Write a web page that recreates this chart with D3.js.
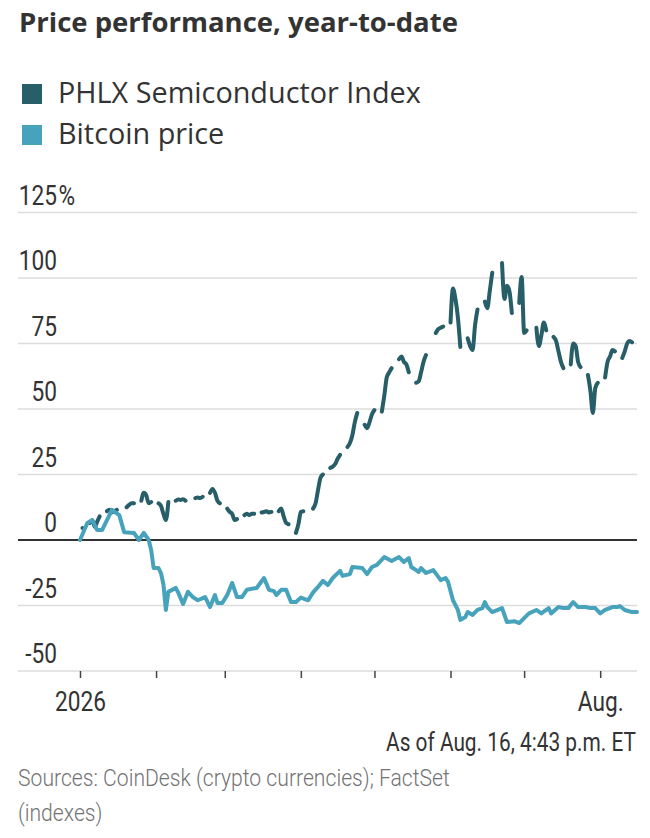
<!DOCTYPE html>
<html>
<head>
<meta charset="utf-8">
<script src="https://cdn.jsdelivr.net/npm/d3@7"></script>
<style>
  body { margin: 0; background: #fff; }
  .narrow { font-family: Roboto, "Liberation Sans", sans-serif; }
</style>
</head>
<body>
<div id="chart"></div>
<script>
const seriesNames = ["PHLX Semiconductor Index", "Bitcoin price"];
const seriesColors = ["#275e68", "#47a3bb"];

const yTicks = [-50, -25, 0, 25, 50, 75, 100, 125];
const xTickDates = ["2026-01-01", "2026-02-01", "2026-03-01", "2026-04-01",
                    "2026-05-01", "2026-06-01", "2026-07-01", "2026-08-01"];
const xTickLabels = ["2026", "", "", "", "", "", "", "Aug."];

// PHLX semis, % change YTD, one row per trading week Mon..Fri (null = market closed)
const semiFirstMonday = "2025-12-29";
const semiWeeks = [
  [null, null, null, null, 4.6],
  [6.5, 7.5, 5, 7, 9],
  [11, 11.5, 10.5, 11, 11.5],
  [null, 12.5, 13.4, 14, 14],
  [15, 18, 17, 14, 14.5],
  [14, 13, 10, 7.6, 14.5],
  [15, 15.5, 15.3, 15.6, 15],
  [null, 16, 16.2, 16, 16.5],
  [18, 19.5, 18, 15, 14],
  [12, 10.7, 10, 7.6, 8],
  [9.5, 10, 9.5, 10, 10],
  [10.5, 10.7, 11, 10.5, 10.7],
  [11, 12, 9, 6.5, 6],
  [2.7, 6, 10.7, 11, null],
  [12, 14, 19, 23.7, 25],
  [27.5, 28, 29, 31, 32.5],
  [35.5, 37, 40, 45, 48.5],
  [44, 42.7, 45, 48, 49.6],
  [49, 55, 62, 64, 65.6],
  [69, 70, 68, 67, 64],
  [60, 60.5, 64, 68, 70.6],
  [null, 79, 80.5, 81, 81.5],
  [83, 96, 92, 85, 73.7],
  [77, 74, 72.5, 82, 88],
  [91, 88.5, 95, 102, null],
  [105.7, 92, 97, 95, 86.6],
  [90.5, 100.4, 79, 80, null],
  [81, 74, 78, 83, 80],
  [77.5, 76, 72, 68, 65.6],
  [67, 75, 74, 68, 66],
  [63, 57, 48.5, 58, 60],
  [62, 68, 70, 72.5, 72],
  [69.5, 72, 75, 76, 75.5]
];

// Bitcoin, % change YTD: day of year (0 = Jan. 1) and value
const btcDays = [0, 3, 5, 7, 9, 12, 13, 16, 18, 22, 24, 26, 28, 29, 30, 32, 33, 34, 35, 36,
                 39, 40, 42, 44, 46, 48, 51, 53, 55, 56, 58, 60, 62, 64, 66, 68, 72, 75, 77, 79,
                 80, 82, 84, 86, 88, 90, 93, 95, 97, 99, 101, 103, 106, 107, 110, 111, 115, 117, 119, 121,
                 124, 127, 130, 132, 134, 135, 137, 138, 139, 141, 144, 147, 149, 150, 152, 154, 155, 157, 158, 160,
                 162, 164, 165, 166, 168, 172, 174, 177, 179, 181, 183, 186, 188, 191, 192, 195, 197, 199, 201, 203,
                 206, 208, 210, 212, 214, 217, 219, 220, 222, 225, 227];
const btcValues = [0, 6.5, 7.6, 3.8, 3.8, 9.5, 11.5, 9.5, 3, 2.7, 0, 2.7, 0, -3.8, -10.7, -10.7, -12.6, -17, -26.7, -19.8,
                   -18.3, -20, -24.4, -19.8, -21.8, -23, -21.8, -25.6, -21, -24, -24, -21, -16.4, -21.8, -21.8, -19, -18.3, -14.5, -19, -19.5,
                   -21, -19, -19, -23.7, -23.7, -22, -23, -20, -17.9, -15.6, -17.2, -14.5, -11.8, -13.7, -13, -10.3, -10.7, -13, -10.3, -9.5,
                   -6.5, -8, -6.5, -8.4, -6.9, -10.3, -11.5, -12.2, -10.7, -12.6, -11.5, -15.3, -14.5, -16, -23, -26.7, -30.5, -29.4, -27.5, -28.6,
                   -26.7, -26, -23.7, -25.6, -27.5, -26, -31.3, -31, -31.7, -29.8, -28, -26.7, -28, -26, -28, -25.6, -26, -26, -23.7, -25.6,
                   -25.6, -26, -26, -28, -26.7, -25.6, -25.6, -25.2, -26.7, -27.5, -27.5];

const width = 650, height = 838;
const parse = d3.timeParse("%Y-%m-%d");
const jan1 = parse("2026-01-01");

const svg = d3.select("#chart").append("svg")
  .attr("width", width)
  .attr("height", height);

const x = d3.scaleTime()
  .domain([jan1, parse("2026-08-16")])
  .range([80, 637]);

const y = d3.scaleLinear()
  .domain([-50, 125])
  .range([671, 212.5]);

// squeeze text horizontally (scale about its anchor) to mimic the narrow house font
function squeeze(sel, k) {
  sel.each(function() {
    const t = d3.select(this);
    const tx = +t.attr("x") || 0, ty = +t.attr("y") || 0;
    t.attr("x", 0).attr("y", 0)
      .attr("transform", `translate(${tx},${ty}) scale(${k},1)`);
  });
}
function fitWidth(node, target) {
  return target / node.getComputedTextLength();
}

// title
svg.append("text")
  .attr("x", 19).attr("y", 32)
  .attr("font-family", "'Open Sans', sans-serif")
  .attr("font-weight", 700)
  .attr("font-size", 27.5)
  .attr("fill", "#333")
  .text("Price performance, year-to-date");

// legend
const legend = svg.append("g");
seriesNames.forEach((name, i) => {
  legend.append("rect")
    .attr("x", 22).attr("y", 84 + i * 41)
    .attr("width", 20).attr("height", 20)
    .attr("fill", seriesColors[i]);
  legend.append("text")
    .attr("x", 58).attr("y", 103 + i * 41)
    .attr("font-family", "'Open Sans', sans-serif")
    .attr("font-size", 28.8)
    .attr("fill", "#333")
    .text(name);
});

// gridlines
svg.append("g")
  .selectAll("line")
  .data(yTicks.filter(d => d !== 0))
  .join("line")
  .attr("x1", 18).attr("x2", 637)
  .attr("y1", d => y(d)).attr("y2", d => y(d))
  .attr("stroke", "#dcdcdc")
  .attr("stroke-width", 1.5);

// y labels
const yLab = svg.append("g").attr("class", "narrow")
  .attr("font-size", 27).attr("fill", "#333");
yLab.selectAll("text")
  .data(yTicks)
  .join("text")
  .attr("x", 57)
  .attr("y", d => y(d) - 8)
  .attr("text-anchor", "end")
  .text(d => d);
yLab.append("text")
  .attr("x", 58.5).attr("y", y(125) - 8)
  .text("%");
squeeze(yLab.selectAll("text"), 0.84);

// x axis ticks and labels
const xAxis = d3.axisBottom(x)
  .tickValues(xTickDates.map(parse))
  .tickSize(7)
  .tickFormat((d, i) => xTickLabels[i]);
const gx = svg.append("g")
  .attr("transform", `translate(0,${y(-50)})`)
  .call(xAxis);
gx.select(".domain").remove();
gx.selectAll(".tick line").attr("stroke", "#444").attr("stroke-width", 1.5);
gx.selectAll(".tick text")
  .attr("class", "narrow")
  .attr("font-size", 27)
  .attr("fill", "#333")
  .attr("dy", 0)
  .attr("y", 40);
squeeze(gx.selectAll(".tick text"), 0.84);

// zero line
svg.append("line")
  .attr("x1", 18).attr("x2", 637)
  .attr("y1", y(0)).attr("y2", y(0))
  .attr("stroke", "#333")
  .attr("stroke-width", 1.8);

// semis points, weekends/holidays as gaps
const firstMon = parse(semiFirstMonday);
const semiData = [];
semiWeeks.forEach((week, k) => {
  week.forEach((v, j) => {
    const date = d3.timeDay.offset(firstMon, k * 7 + j);
    if (date >= jan1) semiData.push({date, value: v});
  });
  semiData.push({date: null, value: null});
});

const btcData = btcDays.map((d, i) => ({date: d3.timeDay.offset(jan1, d), value: btcValues[i]}));

const line = d3.line()
  .defined(d => d.value != null)
  .x(d => x(d.date))
  .y(d => y(d.value))
  .curve(d3.curveMonotoneX);

svg.append("path")
  .datum(semiData)
  .attr("d", line)
  .attr("fill", "none")
  .attr("stroke", seriesColors[0])
  .attr("stroke-width", 4)
  .attr("stroke-linejoin", "round")
  .attr("stroke-linecap", "round");

svg.append("path")
  .datum(btcData)
  .attr("d", line.curve(d3.curveLinear))
  .attr("fill", "none")
  .attr("stroke", seriesColors[1])
  .attr("stroke-width", 4)
  .attr("stroke-linejoin", "round")
  .attr("stroke-linecap", "round");

// footer
const asOf = svg.append("text")
  .attr("class", "narrow")
  .attr("x", 636).attr("y", 751)
  .attr("text-anchor", "end")
  .attr("font-size", 25)
  .attr("fill", "#333")
  .text("As of Aug. 16, 4:43 p.m. ET");
squeeze(asOf, fitWidth(asOf.node(), 250));

const src1 = svg.append("text")
  .attr("class", "narrow")
  .attr("x", 18).attr("y", 786)
  .attr("font-size", 24)
  .attr("font-weight", 300)
  .attr("fill", "#737373")
  .text("Sources: CoinDesk (crypto currencies); FactSet");
const srcK = fitWidth(src1.node(), 432);
squeeze(src1, srcK);
const src2 = svg.append("text")
  .attr("class", "narrow")
  .attr("x", 18).attr("y", 821)
  .attr("font-size", 24)
  .attr("font-weight", 300)
  .attr("fill", "#737373")
  .text("(indexes)");
squeeze(src2, srcK);
</script>
</body>
</html>
